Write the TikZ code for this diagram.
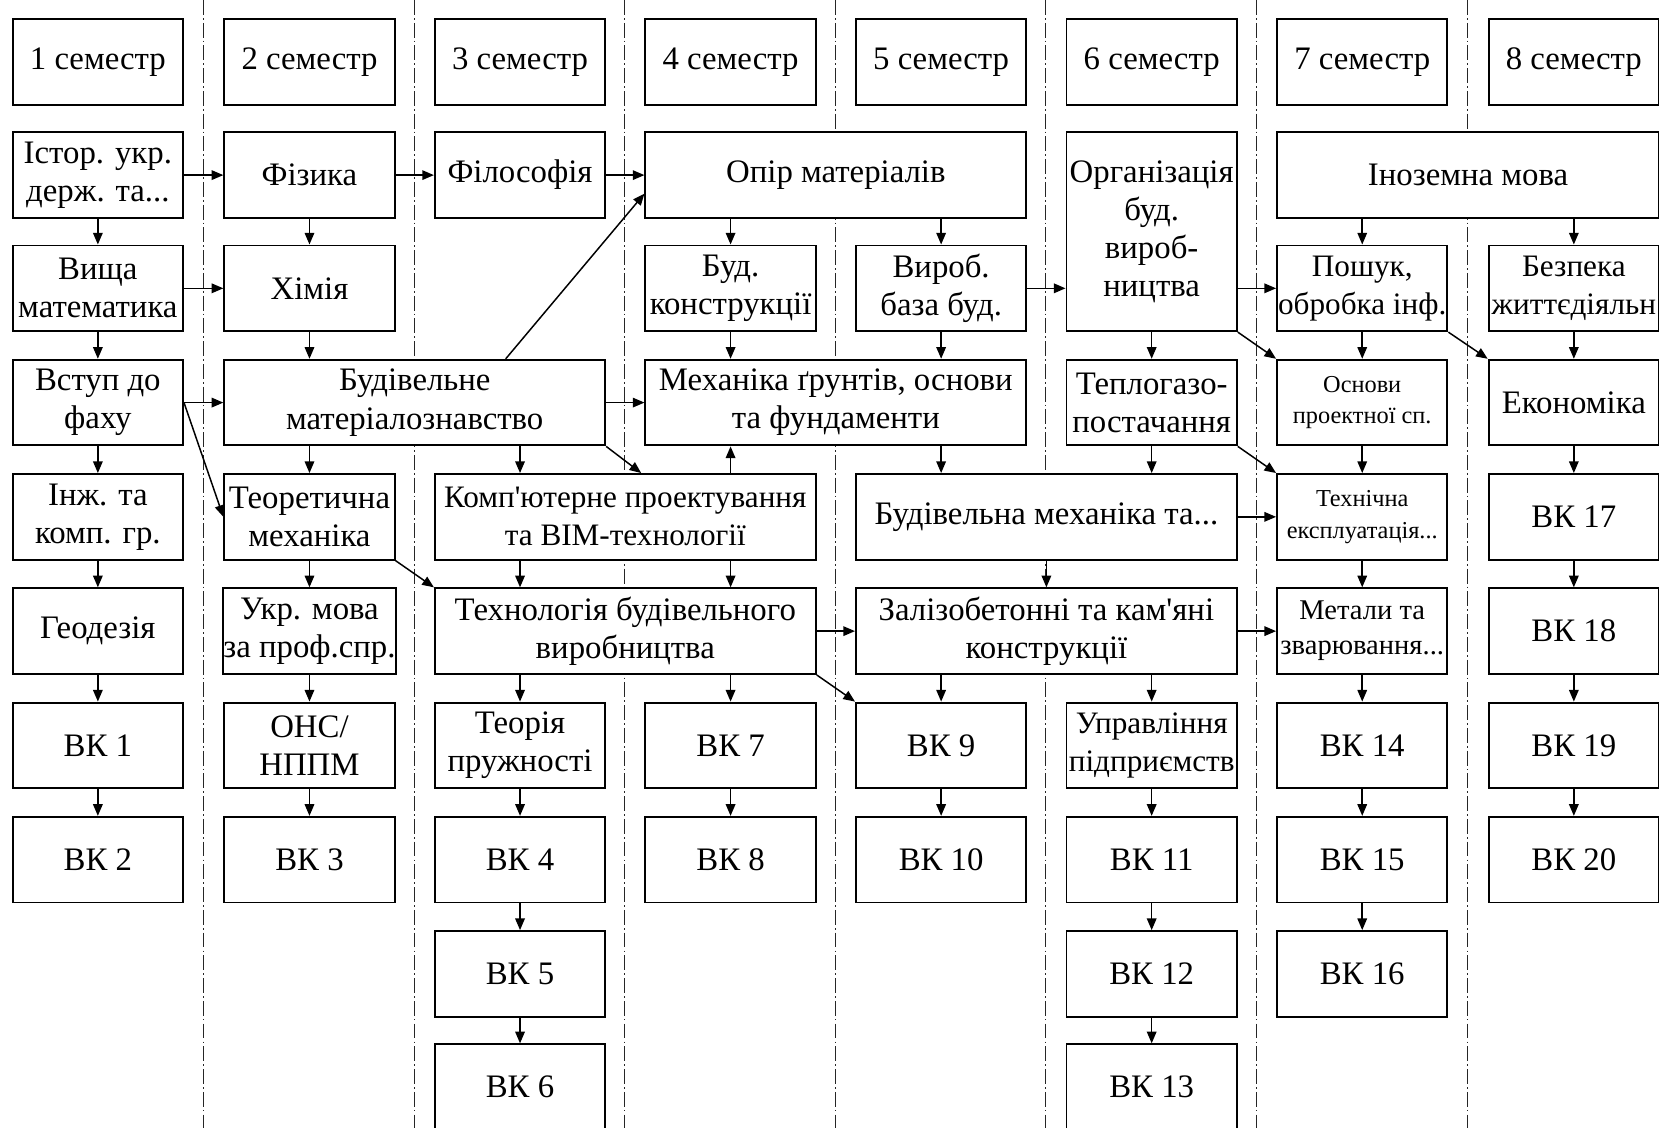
\documentclass[tikz,border=0pt]{standalone}
\usepackage{fontspec}
\setmainfont{Liberation Serif}
\usetikzlibrary{arrows.meta,calc}
\newcommand\fsA{\fontsize{31}{36}\selectfont}
\newcommand\fsB{\fontsize{29.5}{36}\selectfont}
\newcommand\fsS{\fontsize{23}{30}\selectfont}
\newcommand\fsM{\fontsize{27}{33}\selectfont}
\begin{document}
\begin{tikzpicture}[x=1pt,y=-1pt,
  box/.style={draw,line width=1.8pt,fill=white,inner sep=0pt,align=center,
    minimum width=161pt,minimum height=81pt,font=\fsA},
  wide/.style={minimum width=360pt},
  arr/.style={line width=1.4pt,-{Triangle[length=11pt,width=9pt]}},
  sep/.style={line width=0.8pt,black!85,dash pattern=on 14pt off 3pt on 1.5pt off 3pt}]
\useasboundingbox (0,0) rectangle (1568,1066);
\clip (0,0) rectangle (1568,1066);
% separators
\foreach \sx in {192,391.5,590,789.5,988.5,1187.5,1387}
  \draw[sep] (\sx,0) -- (\sx,1066);
% headers
\node[box] (h1) at (92.5,58.5) {1 семестр};
\node[box] (h2) at (292.5,58.5) {2 семестр};
\node[box] (h3) at (491.5,58.5) {3 семестр};
\node[box] (h4) at (690.5,58.5) {4 семестр};
\node[box] (h5) at (889.5,58.5) {5 семестр};
\node[box] (h6) at (1088.5,58.5) {6 семестр};
\node[box] (h7) at (1287.5,58.5) {7 семестр};
\node[box] (h8) at (1487.5,58.5) {8 семестр};
% column 1
\node[box] (ist) at (92.5,165.5) {Істор. укр.\\держ. та...};
\node[box] (vm) at (92.5,272.5) {Вища\\математика};
\node[box] (vstup) at (92.5,380.5) {Вступ до\\фаху};
\node[box] (inzh) at (92.5,488.5) {Інж. та\\комп. гр.};
\node[box] (geo) at (92.5,596.5) {Геодезія};
\node[box] (vk1) at (92.5,704.5) {ВК 1};
\node[box] (vk2) at (92.5,812.5) {ВК 2};
% column 2
\node[box] (fiz) at (292.5,165.5) {Фізика};
\node[box] (chem) at (292.5,272.5) {Хімія};
\node[box,wide] (bm) at (392,380.5) {Будівельне\\матеріалознавство};
\node[box] (teor) at (292.5,488.5) {Теоретична\\механіка};
\node[box] (ukr) at (292.5,596.5) {Укр. мова\\за проф.спр.};
\node[box] (ons) at (292.5,704.5) {ОНС/\\НППМ};
\node[box] (vk3) at (292.5,812.5) {ВК 3};
% column 3
\node[box] (fil) at (491.5,165.5) {Філософія};
\node[box,wide,font=\fsB] (komp) at (591,488.5) {Комп\textquotesingle ютерне проектування\\та BIM-технології};
\node[box,wide] (tech) at (591,596.5) {Технологія будівельного\\виробництва};
\node[box] (tpr) at (491.5,704.5) {Теорія\\пружності};
\node[box] (vk4) at (491.5,812.5) {ВК 4};
\node[box] (vk5) at (491.5,920.5) {ВК 5};
\node[box] (vk6) at (491.5,1027.5) {ВК 6};
% column 4
\node[box,wide] (opir) at (790,165.5) {Опір матеріалів};
\node[box] (bk) at (690.5,272.5) {Буд.\\конструкції};
\node[box,wide] (mech) at (790,380.5) {Механіка ґрунтів, основи\\та фундаменти};
\node[box] (vk7) at (690.5,704.5) {ВК 7};
\node[box] (vk8) at (690.5,812.5) {ВК 8};
% column 5
\node[box] (vyr) at (889.5,272.5) {Вироб.\\база буд.};
\node[box,wide] (bmeh) at (989,488.5) {Будівельна механіка та...};
\node[box,wide] (zal) at (989,596.5) {Залізобетонні та кам\textquotesingle яні\\конструкції};
\node[box] (vk9) at (889.5,704.5) {ВК 9};
\node[box] (vk10) at (889.5,812.5) {ВК 10};
% column 6
\node[box,minimum height=188pt] (org) at (1088.5,219) {Організація\\буд.\\вироб-\\ництва};
\node[box] (tep) at (1088.5,380.5) {Теплогазо-\\постачання};
\node[box,font=\fsB] (upr) at (1088.5,704.5) {Управління\\підприємств};
\node[box] (vk11) at (1088.5,812.5) {ВК 11};
\node[box] (vk12) at (1088.5,920.5) {ВК 12};
\node[box] (vk13) at (1088.5,1027.5) {ВК 13};
% column 7
\node[box,minimum width=361pt] (inoz) at (1387.5,165.5) {Іноземна мова};
\node[box,font=\fsB] (posh) at (1287.5,272.5) {Пошук,\\обробка інф.};
\node[box,font=\fsS] (osn) at (1287.5,380.5) {Основи\\проектної сп.};
\node[box,font=\fsS] (tehn) at (1287.5,488.5) {Технічна\\експлуатація...};
\node[box,font=\fsM] (met) at (1287.5,596.5) {Метали та\\зварювання...};
\node[box] (vk14) at (1287.5,704.5) {ВК 14};
\node[box] (vk15) at (1287.5,812.5) {ВК 15};
\node[box] (vk16) at (1287.5,920.5) {ВК 16};
% column 8
\node[box,font=\fsB] (bez) at (1487.5,272.5) {Безпека\\життєдіяльн};
\node[box] (eco) at (1487.5,380.5) {Економіка};
\node[box] (vk17) at (1487.5,488.5) {ВК 17};
\node[box] (vk18) at (1487.5,596.5) {ВК 18};
\node[box] (vk19) at (1487.5,704.5) {ВК 19};
\node[box] (vk20) at (1487.5,812.5) {ВК 20};
% vertical arrows column 1
\draw[arr] (ist) -- (vm);
\draw[arr] (vm) -- (vstup);
\draw[arr] (vstup) -- (inzh);
\draw[arr] (inzh) -- (geo);
\draw[arr] (geo) -- (vk1);
\draw[arr] (vk1) -- (vk2);
% column 2
\draw[arr] (fiz) -- (chem);
\draw[arr] (chem.south) -- (bm.north -| chem.south);
\draw[arr] (bm.south -| teor.north) -- (teor.north);
\draw[arr] (teor) -- (ukr);
\draw[arr] (ukr) -- (ons);
\draw[arr] (ons) -- (vk3);
% column 3
\draw[arr] (bm.south -| tpr.north) -- (komp.north -| tpr.north);
\draw[arr] (komp.south -| tpr.north) -- (tech.north -| tpr.north);
\draw[arr] (tech.south -| tpr.north) -- (tpr.north);
\draw[arr] (tpr) -- (vk4);
\draw[arr] (vk4) -- (vk5);
\draw[arr] (vk5) -- (vk6);
% column 4
\draw[arr] (opir.south -| bk.north) -- (bk.north);
\draw[arr] (bk.south) -- (mech.north -| bk.south);
\draw[arr] (komp.north -| vk7.north) -- (mech.south -| vk7.north);
\draw[arr] (komp.south -| vk7.north) -- (tech.north -| vk7.north);
\draw[arr] (tech.south -| vk7.north) -- (vk7.north);
\draw[arr] (vk7) -- (vk8);
% column 5
\draw[arr] (opir.south -| vyr.north) -- (vyr.north);
\draw[arr] (vyr.south) -- (mech.north -| vyr.south);
\draw[arr] (mech.south -| vk9.north) -- (bmeh.north -| vk9.north);
\draw[arr] (bmeh) -- (zal);
\draw[arr] (zal.south -| vk9.north) -- (vk9.north);
\draw[arr] (vk9) -- (vk10);
% column 6
\draw[arr] (org) -- (tep);
\draw[arr] (tep.south) -- (bmeh.north -| tep.south);
\draw[arr] (zal.south -| upr.north) -- (upr.north);
\draw[arr] (upr) -- (vk11);
\draw[arr] (vk11) -- (vk12);
\draw[arr] (vk12) -- (vk13);
% column 7
\draw[arr] (inoz.south -| posh.north) -- (posh.north);
\draw[arr] (posh) -- (osn);
\draw[arr] (osn) -- (tehn);
\draw[arr] (tehn) -- (met);
\draw[arr] (met) -- (vk14);
\draw[arr] (vk14) -- (vk15);
\draw[arr] (vk15) -- (vk16);
% column 8
\draw[arr] (inoz.south -| bez.north) -- (bez.north);
\draw[arr] (bez) -- (eco);
\draw[arr] (eco) -- (vk17);
\draw[arr] (vk17) -- (vk18);
\draw[arr] (vk18) -- (vk19);
\draw[arr] (vk19) -- (vk20);
% horizontal arrows
\draw[arr] (ist) -- (fiz);
\draw[arr] (fiz) -- (fil);
\draw[arr] (fil.east) -- (opir.west |- fil.east);
\draw[arr] (vm) -- (chem);
\draw[arr] (vstup.east) -- (bm.west |- vstup.east);
\draw[arr] (bm.east |- mech.west) -- (mech.west);
\draw[arr] (vyr.east) -- (org.west |- vyr.east);
\draw[arr] (org.east |- posh.west) -- (posh.west);
\draw[arr] (tech) -- (zal);
\draw[arr] (bmeh.east |- tehn.west) -- (tehn.west);
\draw[arr] (zal.east |- met.west) -- (met.west);
% diagonal arrows
\draw[arr] (vstup.east) -- (teor.west);
\draw[arr] ([xshift=86pt]bm.north) -- ([yshift=-17.5pt]opir.west);
\draw[arr] (bm.south east) -- ([xshift=15pt]komp.north);
\draw[arr] (teor.south east) -- (tech.north west);
\draw[arr] (tech.south east) -- (vk9.north west);
\draw[arr] (org.south east) -- (osn.north west);
\draw[arr] (posh.south east) -- (eco.north west);
\draw[arr] (tep.south east) -- (tehn.north west);
\end{tikzpicture}
\end{document}
